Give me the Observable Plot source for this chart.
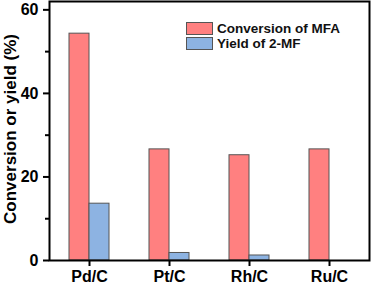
<!DOCTYPE html>
<html>
<head>
<meta charset="utf-8">
<script src="https://cdn.jsdelivr.net/npm/d3@7"></script>
<script src="https://cdn.jsdelivr.net/npm/@observablehq/plot@0.6"></script>
<style>
  html, body { margin: 0; padding: 0; background: #fff; }
  #wrap { position: relative; width: 372px; height: 285px; font-family: "Liberation Sans", Arial, sans-serif; }
  #legend { position: absolute; left: 186px; top: 21px; }
  .row { display: flex; align-items: center; height: 15px; }
  .sw { width: 27px; height: 13px; box-sizing: border-box; border: 1px solid #555; margin-right: 4px; }
  .lab { font-size: 13.5px; font-weight: bold; color: #111; white-space: nowrap; }
</style>
</head>
<body>
<div id="wrap"></div>
<script>
const catalysts = ["Pd/C", "Pt/C", "Rh/C", "Ru/C"];
const conversion = [54.3, 26.6, 25.2, 26.6];
const yield2MF = [13.6, 1.8, 1.2, 0];
const seriesNames = ["Conversion of MFA", "Yield of 2-MF"];
const seriesColors = ["#ff8080", "#8db3e2"];
const yMajorTicks = [0, 20, 40, 60];
const yMinorTicks = [10, 30, 50];
const yLabel = "Conversion or yield (%)";

const convData = catalysts.map((c, i) => ({catalyst: c, value: conversion[i]}));
const yieldData = catalysts.map((c, i) => ({catalyst: c, value: yield2MF[i]}));

const font = "Liberation Sans, Arial, sans-serif";

const chart = Plot.plot({
  width: 372,
  height: 285,
  marginLeft: 49,
  marginRight: 3,
  marginTop: 1,
  marginBottom: 25,
  style: {fontFamily: font, background: "white", color: "black"},
  x: {domain: catalysts, paddingInner: 0.5, paddingOuter: 0.25, round: false, label: null},
  y: {domain: [0, 62], label: null},
  marks: [
    Plot.barY(convData, {x: "catalyst", y: "value", fill: seriesColors[0], stroke: "#555", strokeWidth: 1, insetRight: 20}),
    Plot.barY(yieldData, {x: "catalyst", y: "value", fill: seriesColors[1], stroke: "#555", strokeWidth: 1, insetLeft: 20}),
    Plot.frame({stroke: "black", strokeWidth: 2}),
    Plot.axisY({ticks: yMajorTicks, tickSize: 6, tickPadding: 5, strokeWidth: 2, fontSize: 16, fontWeight: "bold", label: null}),
    Plot.axisY({ticks: yMinorTicks, tickSize: 4, strokeWidth: 2, tickFormat: () => "", label: null}),
    Plot.axisX({tickSize: 6, tickPadding: 4, strokeWidth: 2, fontSize: 16, fontWeight: "bold", label: null}),
    Plot.text([yLabel], {text: d => d, frameAnchor: "left", textAnchor: "middle", lineAnchor: "middle", rotate: -90, dx: -39, dy: -2, fontSize: 17, fontWeight: "bold", fill: "black"})
  ]
});

const wrap = document.getElementById("wrap");
wrap.appendChild(chart);

const legend = document.createElement("div");
legend.id = "legend";
seriesNames.forEach((name, i) => {
  const row = document.createElement("div");
  row.className = "row";
  const sw = document.createElement("div");
  sw.className = "sw";
  sw.style.background = seriesColors[i];
  const lab = document.createElement("span");
  lab.className = "lab";
  lab.textContent = name;
  row.appendChild(sw);
  row.appendChild(lab);
  legend.appendChild(row);
});
wrap.appendChild(legend);
</script>
</body>
</html>
